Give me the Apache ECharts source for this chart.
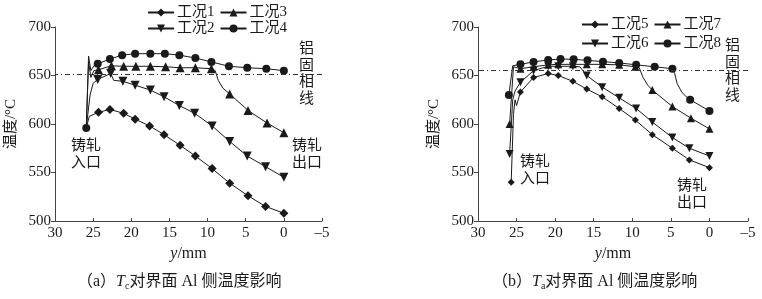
<!DOCTYPE html>
<html>
<head>
<meta charset="utf-8">
<script src="https://cdn.jsdelivr.net/npm/echarts@6/dist/echarts.min.js"></script>
<style>
  html, body { margin: 0; padding: 0; background: #fff; }
  #main { width: 762px; height: 299px; }
</style>
</head>
<body>
<div id="main"></div>
<script>
// (a) Tc 对界面 Al 侧温度影响 —— 节点(带标记)与曲线转折点(无标记)
var c1Nodes = [[24.3, 612], [22.8, 615], [21.0, 611], [19.5, 605], [17.6, 598], [15.7, 589], [13.6, 578], [11.6, 567], [9.4, 554], [7.1, 539], [4.7, 526], [2.4, 515], [0, 508]];
var c1Bends = [[25.9, 596], [25.5, 608]];
var c2Nodes = [[24.4, 646], [22.7, 652], [21.1, 644], [19.5, 640], [17.5, 635], [15.7, 628], [13.7, 619], [11.7, 611], [9.4, 598], [7.1, 582], [4.8, 567], [2.4, 556], [0, 545]];
var c2Bends = [[25.9, 596], [25.4, 630], [25.0, 642], [22.3, 645]];
var c3Nodes = [[24.3, 656], [22.6, 660], [21.0, 659.5], [19.4, 659.5], [17.5, 659.5], [15.5, 659], [13.6, 658], [11.6, 658], [9.5, 657], [7.1, 631], [4.7, 614], [2.2, 601], [0, 591]];
var c3Bends = [[25.9, 596], [25.6, 664], [25.3, 648], [24.9, 655], [9.0, 655], [8.6, 645], [8.0, 637]];
var c4Nodes = [[25.9, 596], [24.4, 662], [22.8, 667], [21.2, 671], [19.5, 672.5], [17.5, 672.5], [15.6, 672.5], [13.7, 671], [11.6, 668], [9.5, 664], [7.2, 659.5], [4.8, 658], [2.3, 657], [0, 655]];
var c4Bends = [[25.6, 670], [25.3, 655], [24.9, 660]];
var solidusA = 651;

// (b) Ta 对界面 Al 侧温度影响
var c5Nodes = [[25.7, 540], [24.5, 633], [22.8, 648], [20.9, 652], [19.6, 650], [17.7, 644], [15.9, 636], [13.9, 628], [11.7, 616], [9.6, 604], [7.4, 589], [4.8, 575], [2.6, 563], [0, 555]];
var c5Bends = [[25.4, 610], [25.2, 625], [25.0, 619]];
var c6Nodes = [[25.9, 569], [24.5, 643], [22.8, 655], [20.9, 659.5], [19.6, 659.5], [17.7, 659.5], [15.9, 650], [13.9, 638], [11.7, 627], [9.5, 616], [7.4, 602], [4.8, 586], [2.6, 575], [0, 567]];
var c6Bends = [[25.5, 625], [25.2, 634], [16.8, 659]];
var c7Nodes = [[25.9, 600], [24.5, 657], [22.8, 659], [20.9, 661], [19.6, 661.5], [17.7, 661.5], [15.9, 661.5], [13.9, 661.5], [11.7, 661], [9.6, 659], [7.4, 635], [4.8, 618], [2.4, 606], [0, 595]];
var c7Bends = [[25.4, 659], [9.1, 658], [8.6, 648], [8.0, 640]];
var c8Nodes = [[26.0, 630], [24.5, 661.5], [22.8, 664], [20.9, 666], [19.3, 667], [17.6, 666.7], [15.8, 665.6], [13.8, 664.3], [11.7, 663], [9.5, 661], [7.1, 659], [4.8, 657], [2.5, 625], [0, 613.5]];
var c8Bends = [[25.5, 660], [4.5, 652], [4.2, 642], [3.6, 633], [3.0, 628]];
var solidusB = 655;

var FONT = '"Liberation Serif", "Noto Sans CJK SC", serif';
var INK = '#1a1a1a';

function curve(nodes, bends) {
  var pts = nodes.map(function (p) { return { value: p }; })
    .concat(bends.map(function (p) { return { value: p, symbol: 'none' }; }));
  pts.sort(function (a, b) { return b.value[0] - a.value[0]; });
  return pts;
}

function line(name, idx, nodes, bends, symbol, size) {
  return {
    name: name, type: 'line', xAxisIndex: idx, yAxisIndex: idx,
    data: curve(nodes, bends), symbol: symbol, symbolSize: size,
    showAllSymbol: true, animation: false,
    lineStyle: { color: INK, width: 1 },
    itemStyle: { color: INK }
  };
}

function solidus(y) {
  return {
    silent: true, symbol: ['none', 'none'], label: { show: false },
    lineStyle: { type: [5, 3, 1, 3], color: '#333', width: 1 },
    data: [{ yAxis: y }]
  };
}

function xAxis(idx) {
  return {
    gridIndex: idx, type: 'value', min: -5, max: 30, interval: 5, inverse: true,
    name: '{i|y}/mm', nameLocation: 'middle', nameGap: 25,
    nameTextStyle: { fontFamily: FONT, fontSize: 16, color: INK, rich: { i: { fontStyle: 'italic', fontFamily: FONT, fontSize: 16 } } },
    axisLine: { onZero: false, lineStyle: { color: '#444' } },
    axisTick: { inside: true, length: 3, lineStyle: { color: '#444' } },
    axisLabel: { fontFamily: FONT, fontSize: 15, color: INK, margin: 5,
      formatter: function (v) { return String(v).replace('-', '\u2013'); } },
    splitLine: { show: false }
  };
}

function yAxis(idx) {
  return {
    gridIndex: idx, type: 'value', min: 500, max: 700, interval: 50,
    name: '温度/°C', nameLocation: 'middle', nameGap: 36,
    nameTextStyle: { fontFamily: FONT, fontSize: 15, color: INK },
    axisLine: { show: true, onZero: false, lineStyle: { color: '#444' } },
    axisTick: { show: true, length: 4, lineStyle: { color: '#444' } },
    axisLabel: { fontFamily: FONT, fontSize: 15, color: INK, margin: 4 },
    splitLine: { show: false }
  };
}

function legend(names, left, top) {
  return {
    data: names, left: left, top: top, itemWidth: 26, itemHeight: 10, itemGap: 5,
    padding: 0, textStyle: { fontFamily: FONT, fontSize: 15, color: INK, padding: [0, 0, 0, -2] }
  };
}

function label(text, x, y, size, lh) {
  return {
    type: 'text', left: x, top: y,
    style: { text: text, fontFamily: FONT, fontSize: size, lineHeight: lh, fill: INK }
  };
}

function caption(tag, sub, x) {
  return {
    type: 'text', left: x, top: 274,
    style: {
      text: '（' + tag + '）{i|T}{s|' + sub + '}对界面 Al 侧温度影响', fontFamily: FONT, fontSize: 16, fill: INK,
      rich: {
        i: { fontStyle: 'italic', fontFamily: FONT, fontSize: 16 },
        s: { fontFamily: FONT, fontSize: 10, padding: [9, 0, 0, 0] }
      }
    }
  };
}

var s1 = line('工况1', 0, c1Nodes, c1Bends, 'diamond', 9);
var s2 = line('工况2', 0, c2Nodes, c2Bends, 'triangle', 9);
var s3 = line('工况3', 0, c3Nodes, c3Bends, 'triangle', 9);
var s4 = line('工况4', 0, c4Nodes, c4Bends, 'circle', 8);
var s5 = line('工况5', 1, c5Nodes, c5Bends, 'diamond', 7);
var s6 = line('工况6', 1, c6Nodes, c6Bends, 'triangle', 8);
var s7 = line('工况7', 1, c7Nodes, c7Bends, 'triangle', 8);
var s8 = line('工况8', 1, c8Nodes, c8Bends, 'circle', 8);
s2.symbolRotate = 180;
s6.symbolRotate = 180;
s4.markLine = solidus(solidusA);
s8.markLine = solidus(solidusB);

var chart = echarts.init(document.getElementById('main'), null, { renderer: 'canvas' });
chart.setOption({
  backgroundColor: '#fff',
  animation: false,
  grid: [
    { left: 55, top: 27, width: 267, height: 194 },
    { left: 478, top: 27, width: 270, height: 194 }
  ],
  xAxis: [xAxis(0), xAxis(1)],
  yAxis: [yAxis(0), yAxis(1)],
  legend: [
    legend(['工况1', '工况3'], 147, 5),
    legend(['工况2', '工况4'], 147, 21),
    legend(['工况5', '工况7'], 581, 17),
    legend(['工况6', '工况8'], 581, 36)
  ],
  series: [s1, s2, s3, s4, s5, s6, s7, s8],
  graphic: [
    label('铸轧\n入口', 71, 138, 15, 17),
    label('铸轧\n出口', 292, 138, 15, 17),
    label('铝\n固\n相\n线', 299, 41, 15, 16.5),
    label('铸轧\n入口', 520, 154, 15, 17),
    label('铸轧\n出口', 677, 178, 15, 17),
    label('铝\n固\n相\n线', 725, 38, 15, 16.5),
    caption('a', 'c', 77),
    caption('b', 'a', 492)
  ]
});

window.addEventListener('resize', function () {
  chart.resize();
});
</script>
</body>
</html>
